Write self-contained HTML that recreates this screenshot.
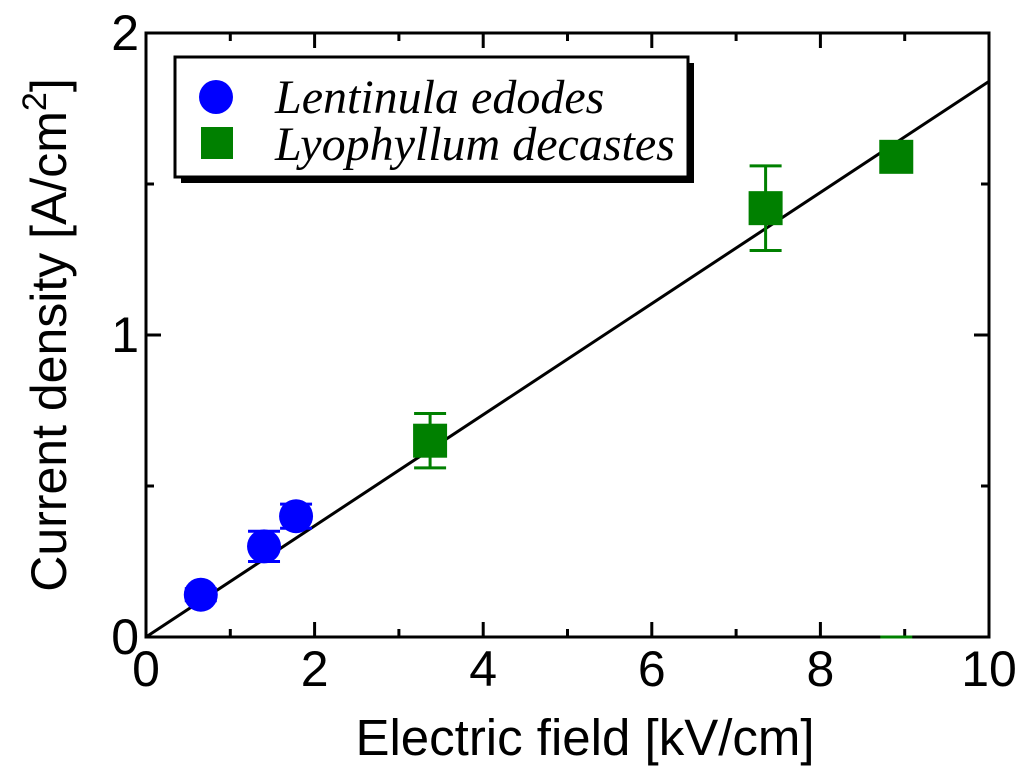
<!DOCTYPE html>
<html><head><meta charset="utf-8"><style>body{margin:0;background:#fff}svg{display:block}</style></head>
<body>
<svg id="chart" width="1024" height="775" xmlns="http://www.w3.org/2000/svg" font-family="Liberation Sans, sans-serif">
</svg>
<script>
const xTicks=[0,2,4,6,8,10];
const yTicks=[0,1,2];
const xMinor=[1,3,5,7,9];
const yMinor=[0.5,1.5];
const lentX=[0.65,1.4,1.78];
const lentY=[0.14,0.30,0.40];
const lentErr=[0.02,0.05,0.04];
const lyoX=[3.37,7.35,8.9];
const lyoY=[0.65,1.42,1.59];
const lyoErr=[0.09,0.14,0];
const fitSlope=0.184;
const L=146,R=989,T=33,B=637;
const sx=v=>L+(R-L)*v/10, sy=v=>B-(B-T)*v/2;
const svg=document.getElementById('chart');
const NS='http://www.w3.org/2000/svg';
function mk(t,a,p){const e=document.createElementNS(NS,t);for(const k in a)e.setAttribute(k,a[k]);(p||svg).appendChild(e);return e;}
let e;
e=mk('rect',{x:L,y:T,width:R-L,height:B-T,fill:'none',stroke:'#000','stroke-width':3});


xTicks.forEach(v=>{
 e=mk('line',{x1:sx(v),x2:sx(v),y1:B,y2:B-15,stroke:'#000','stroke-width':3});
 
 
 mk('line',{x1:sx(v),x2:sx(v),y1:T,y2:T+15,stroke:'#000','stroke-width':3});
 e=mk('text',{x:sx(v),y:686,'font-size':50,'text-anchor':'middle'});e.textContent=v;
 
 
});
xMinor.forEach(v=>{mk('line',{x1:sx(v),x2:sx(v),y1:B,y2:B-8,stroke:'#000','stroke-width':3});mk('line',{x1:sx(v),x2:sx(v),y1:T,y2:T+8,stroke:'#000','stroke-width':3});});
yTicks.forEach(v=>{
 e=mk('line',{x1:L,x2:L+15,y1:sy(v),y2:sy(v),stroke:'#000','stroke-width':3});
 
 
 mk('line',{x1:R,x2:R-15,y1:sy(v),y2:sy(v),stroke:'#000','stroke-width':3});
 e=mk('text',{x:139,y:sy(v)+17,'font-size':50,'text-anchor':'end'});e.textContent=v;
 
 
});
yMinor.forEach(v=>{mk('line',{x1:L,x2:L+8,y1:sy(v),y2:sy(v),stroke:'#000','stroke-width':3});mk('line',{x1:R,x2:R-8,y1:sy(v),y2:sy(v),stroke:'#000','stroke-width':3});});
e=mk('line',{x1:sx(0),y1:sy(0),x2:sx(10),y2:sy(10*fitSlope),stroke:'#000','stroke-width':3});


lentX.forEach((x,i)=>{
 const cx=sx(x),cy=sy(lentY[i]),h=cy-sy(lentY[i]+lentErr[i]);
 mk('line',{x1:cx,x2:cx,y1:cy-h,y2:cy+h,stroke:'#0000ff','stroke-width':3});
 mk('line',{x1:cx-16,x2:cx+16,y1:cy-h,y2:cy-h,stroke:'#0000ff','stroke-width':3});
 mk('line',{x1:cx-16,x2:cx+16,y1:cy+h,y2:cy+h,stroke:'#0000ff','stroke-width':3});
 e=mk('circle',{cx:cx,cy:cy,r:17,fill:'#0000ff'});
 
 
});
lyoX.forEach((x,i)=>{
 const cx=sx(x),cy=sy(lyoY[i]),h=cy-sy(lyoY[i]+lyoErr[i]);
 if(h>0){
 mk('line',{x1:cx,x2:cx,y1:cy-h,y2:cy+h,stroke:'#008000','stroke-width':3});
 mk('line',{x1:cx-16,x2:cx+16,y1:cy-h,y2:cy-h,stroke:'#008000','stroke-width':3});
 mk('line',{x1:cx-16,x2:cx+16,y1:cy+h,y2:cy+h,stroke:'#008000','stroke-width':3});
 } else {
 mk('line',{x1:cx-16,x2:cx+16,y1:sy(0),y2:sy(0),stroke:'#008000','stroke-width':3});
 }
 e=mk('rect',{x:cx-17,y:cy-17,width:34,height:34,fill:'#008000'});
 
 
});
</script>
<svg style="position:absolute;left:0;top:0" width="1024" height="775" xmlns="http://www.w3.org/2000/svg" font-family="Liberation Sans, sans-serif">
<g>
<rect x="181" y="63" width="513" height="120" fill="#000"/>
<rect x="175" y="57" width="513" height="120" fill="#fff" stroke="#000" stroke-width="3"/>
<circle cx="216" cy="97" r="17" fill="#0000ff"/>
<text x="275" y="113" font-family="Liberation Serif, serif" font-style="italic" font-size="48">Lentinula edodes</text>
<rect x="201" y="127" width="32" height="32" fill="#008000"/>
<text x="275" y="160" font-family="Liberation Serif, serif" font-style="italic" font-size="48">Lyophyllum decastes</text>
</g>
<text x="585" y="755" font-size="51" text-anchor="middle">Electric field [kV/cm]</text>
<text transform="translate(66,335) rotate(-90)" font-size="50" text-anchor="middle">Current density [A/cm<tspan dy="-20" font-size="34">2</tspan><tspan dy="20">]</tspan></text>
</svg>
</body></html>
